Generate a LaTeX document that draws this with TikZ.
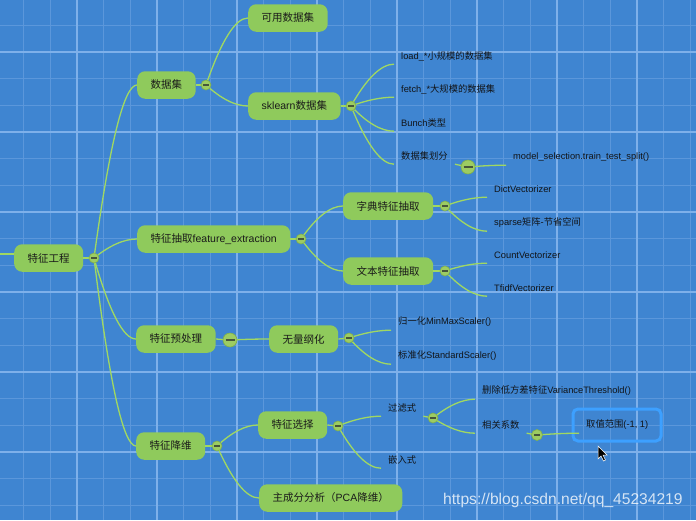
\documentclass[tikz,border=0pt]{standalone}
\usepackage{fontspec}
\setmainfont{Liberation Sans}
\newfontfamily\cjkfont{Noto Sans CJK SC}
\newcommand\zh[1]{{\cjkfont #1}}
\usetikzlibrary{calc}
\definecolor{bg}{HTML}{3F85D1}
\definecolor{gridminor}{HTML}{5B97DB}
\definecolor{gridmajor}{HTML}{7EB0EA}
\definecolor{nodegreen}{HTML}{8FCA5C}
\definecolor{linegreen}{HTML}{A0D862}
\definecolor{circfill}{HTML}{9DCC62}
\definecolor{circdraw}{HTML}{7FB04C}
\definecolor{minuscol}{HTML}{46563A}
\definecolor{txt}{HTML}{1A1A1A}
\definecolor{leaftxt}{HTML}{111418}
\definecolor{selblue}{HTML}{3DA0FF}
\newcommand\mmconn[2]{\draw[conn] let \p1=(#1), \p2=(#2) in (\p1) .. controls ({\x1+0.367*(\x2-\x1)},{\y1+0.667*(\y2-\y1)}) and ({\x2-0.3*(\x2-\x1)},\y2) .. (\p2);}
\begin{document}
\begin{tikzpicture}[x=1pt,y=-1pt,
  topic/.style={fill=nodegreen, rounded corners=8pt, minimum height=27.5pt, inner xsep=13.5pt, inner ysep=0pt, anchor=west, font=\fontsize{10.5}{12}\selectfont, text=txt},
  leaf/.style={inner xsep=7pt, inner ysep=0pt, minimum height=16pt, anchor=west, font=\fontsize{9.3}{11}\selectfont, text=leaftxt},
  conn/.style={draw=linegreen, line width=1.3pt},
  collapse/.style={circle, fill=circfill, draw=circdraw, line width=0.6pt, minimum size=10pt, inner sep=0pt,
    path picture={\draw[minuscol, line width=1.1pt] ([xshift=-2.8pt]path picture bounding box.center) -- ([xshift=2.8pt]path picture bounding box.center);}},
  bigcollapse/.style={circle, fill=circfill, draw=circdraw, line width=0.6pt, minimum size=14pt, inner sep=0pt,
    path picture={\draw[minuscol, line width=1.8pt] ([xshift=-4.5pt]path picture bounding box.center) -- ([xshift=4.5pt]path picture bounding box.center);}},
  minor/.style={draw=gridminor, line width=0.8pt},
  major/.style={draw=gridmajor, line width=1.2pt},
  selbox/.style={draw=selblue, line width=3pt, rounded corners=5pt},
  wmark/.style={anchor=west, inner sep=0pt, text=white, text opacity=0.78, font=\fontsize{15.6}{18}\selectfont}
]
\useasboundingbox (0,0) rectangle (696,520);
\fill[bg] (0,0) rectangle (696,520);
% grid
\foreach \n in {0,...,26} {\draw[minor] ({-3+80/3*\n},0) -- ({-3+80/3*\n},520);}
\foreach \n in {0,...,19} {\draw[minor] (0,{-4/3+80/3*\n}) -- (696,{-4/3+80/3*\n});}
\foreach \n in {0,3,...,24} {\draw[major] ({-3+80/3*\n},0) -- ({-3+80/3*\n},520);}
\foreach \n in {2,5,...,17} {\draw[major] (0,{-4/3+80/3*\n}) -- (696,{-4/3+80/3*\n});}

% topics
\node[topic] (root) at (14,258) {\zh{特征工程}};
\node[topic] (sjj) at (137,85) {\zh{数据集}};
\node[topic] (ky) at (248,18) {\zh{可用数据集}};
\node[topic] (sk) at (248,106) {sklearn\zh{数据集}};
\node[topic] (tzcq) at (137,239) {\zh{特征抽取}feature\_extraction};
\node[topic] (zd) at (343,206) {\zh{字典特征抽取}};
\node[topic] (wb) at (343,271) {\zh{文本特征抽取}};
\node[topic] (yycl) at (136,339) {\zh{特征预处理}};
\node[topic] (wlgh) at (269,339) {\zh{无量纲化}};
\node[topic] (jw) at (136,446) {\zh{特征降维}};
\node[topic] (xz) at (258,425) {\zh{特征选择}};
\node[topic] (pca) at (259,498) {\zh{主成分分析（}PCA\zh{降维）}};

% leaves
\node[leaf] (l1) at (394,56) {load\_*\zh{小规模的数据集}};
\node[leaf] (l2) at (394,89) {fetch\_*\zh{大规模的数据集}};
\node[leaf] (l3) at (394,123) {Bunch\zh{类型}};
\node[leaf] (l4) at (394,156) {\zh{数据集划分}};
\node[leaf] (l5) at (506,157) {model\_selection.train\_test\_split()};
\node[leaf] (l6) at (487,189) {DictVectorizer};
\node[leaf] (l7) at (487,223) {sparse\zh{矩阵}-\zh{节省空间}};
\node[leaf] (l8) at (487,255) {CountVectorizer};
\node[leaf] (l9) at (487,288) {TfidfVectorizer};
\node[leaf] (l10) at (391,322) {\zh{归一化}MinMaxScaler()};
\node[leaf] (l11) at (391,356) {\zh{标准化}StandardScaler()};
\node[leaf] (l12) at (381,408) {\zh{过滤式}};
\node[leaf] (l13) at (381,460) {\zh{嵌入式}};
\node[leaf] (l14) at (475,391) {\zh{删除低方差特征}VarianceThreshold()};
\node[leaf] (l15) at (475,425) {\zh{相关系数}};
\node[leaf] (l16) at (579,425) {\zh{取值范围}(-1, 1)};
\draw[selbox] (573,409) rectangle (661,441);

% collapse points
\coordinate (c0) at (94,258);
\coordinate (c1) at (206,85);
\coordinate (c2) at (351,106);
\coordinate (c3) at (301,239);
\coordinate (c4) at (445,206);
\coordinate (c5) at (445,271);
\coordinate (c6) at (230,340);
\coordinate (c7) at (349,338);
\coordinate (c8) at (217,446);
\coordinate (c9) at (338,426);
\coordinate (c10) at (468,167);
\coordinate (c11) at (433,418);
\coordinate (c12) at (537,435);

% incoming line on the left
\coordinate (lin) at (0,254);
\draw[conn] (lin) -- (lin -| root.west);

% connectors
\draw[conn] (root.east) -- (c0);
\mmconn{c0}{sjj.west}
\mmconn{c0}{tzcq.west}
\mmconn{c0}{yycl.west}
\mmconn{c0}{jw.west}
\draw[conn] (sjj.east) -- (c1);
\mmconn{c1}{ky.west}
\mmconn{c1}{sk.west}
\draw[conn] (sk.east) -- (c2);
\mmconn{c2}{l1.south west}
\mmconn{c2}{l2.south west}
\mmconn{c2}{l3.south west}
\mmconn{c2}{l4.south west}
\draw[conn] (l4.south east) -- (c10);
\mmconn{c10}{l5.south west}
\draw[conn] (tzcq.east) -- (c3);
\mmconn{c3}{zd.west}
\mmconn{c3}{wb.west}
\draw[conn] (zd.east) -- (c4);
\mmconn{c4}{l6.south west}
\mmconn{c4}{l7.south west}
\draw[conn] (wb.east) -- (c5);
\mmconn{c5}{l8.south west}
\mmconn{c5}{l9.south west}
\draw[conn] (yycl.east) -- (c6);
\mmconn{c6}{wlgh.west}
\draw[conn] (wlgh.east) -- (c7);
\mmconn{c7}{l10.south west}
\mmconn{c7}{l11.south west}
\draw[conn] (jw.east) -- (c8);
\mmconn{c8}{xz.west}
\mmconn{c8}{pca.west}
\draw[conn] (xz.east) -- (c9);
\mmconn{c9}{l12.south west}
\mmconn{c9}{l13.south west}
\draw[conn] (l12.south east) -- (c11);
\mmconn{c11}{l14.south west}
\mmconn{c11}{l15.south west}
\draw[conn] (l15.south east) -- (c12);
\mmconn{c12}{l16.south west}

% collapse circles
\node[collapse] (k0) at (c0) {};
\node[collapse] (k1) at (c1) {};
\node[collapse] (k2) at (c2) {};
\node[collapse] (k3) at (c3) {};
\node[collapse] (k4) at (c4) {};
\node[collapse] (k5) at (c5) {};
\node[bigcollapse] (k6) at (c6) {};
\node[collapse] (k7) at (c7) {};
\node[collapse] (k8) at (c8) {};
\node[collapse] (k9) at (c9) {};
\node[bigcollapse] (k10) at (c10) {};
\node[collapse] (k11) at (c11) {};
\node[collapse, minimum size=11pt] (k12) at (c12) {};

% watermark
\node[wmark] (wm) at (443,500) {https://blog.csdn.net/qq\_45234219};

% mouse cursor
\draw[fill=black, draw=white, line width=0.5pt] (598,446) -- (598,459) -- (601,456) -- (603.5,461) -- (605.5,460) -- (603,455) -- (607,455) -- cycle;
\end{tikzpicture}
\end{document}
